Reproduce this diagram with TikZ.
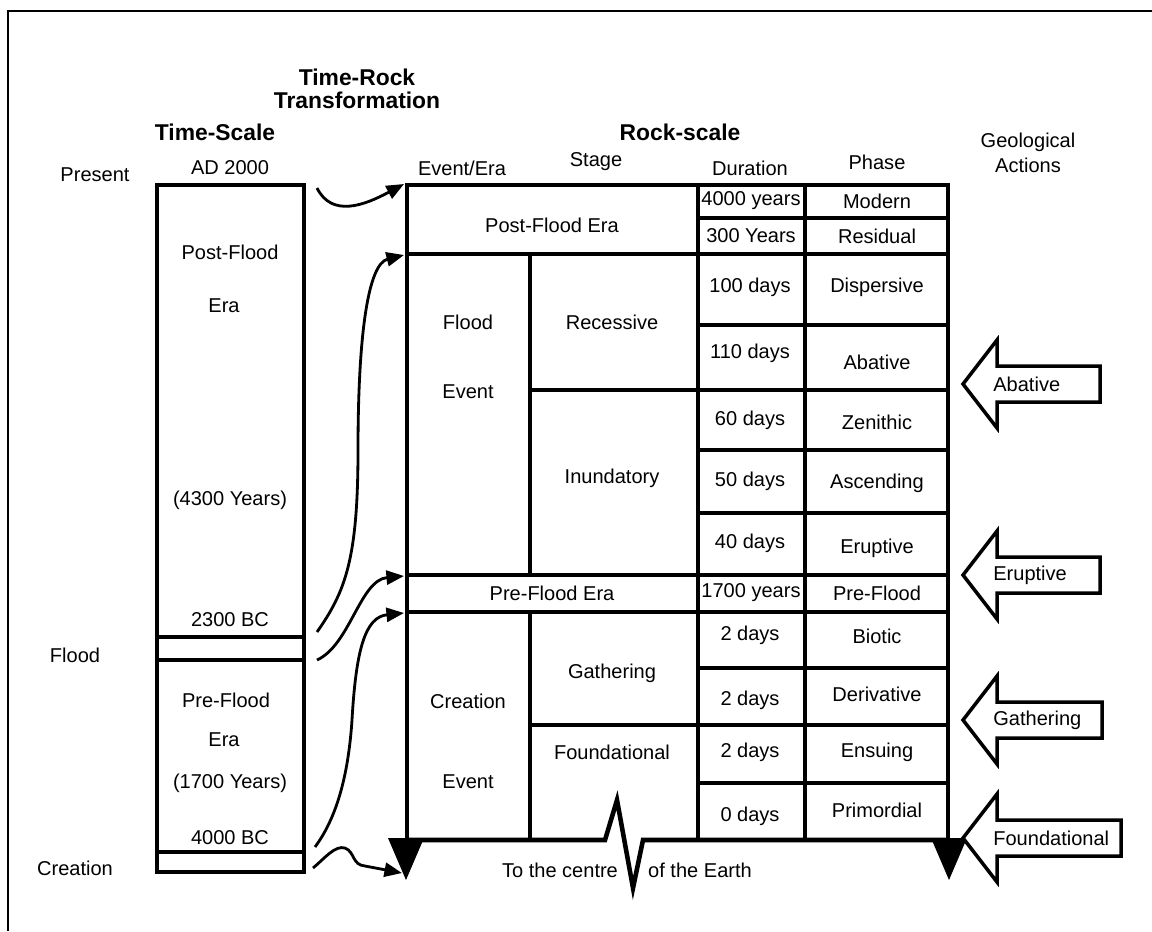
\documentclass[tikz,border=0pt]{standalone}
\usepackage{fontspec}
\setmainfont{Liberation Sans}
\usetikzlibrary{arrows.meta}

\begin{document}
\begin{tikzpicture}[
    x=0.02cm, y=-0.02cm,
    line join=miter,
    rule/.style={line width=2.6pt},
    inner rule/.style={line width=2.3pt},
    txt/.style={font=\fontsize{11.4}{14}\selectfont, inner sep=0pt, align=center},
    hdr/.style={font=\fontsize{13}{13}\selectfont\bfseries, inner sep=0pt, align=center},
    link/.style={line width=1.6pt, -{Triangle[length=10pt, width=8pt]}},
    block/.style={line width=2pt, fill=white}
]

    % Page and frame
    \useasboundingbox (0,0) rectangle (1152,931);
    \draw[line width=1.4pt] (8,931) -- (8,11) -- (1152,11);

    % Headings
    \node[hdr] (trHead) at (357,89) {Time-Rock\\Transformation};
    \node[hdr] (tsHead) at (215,132) {Time-Scale};
    \node[hdr] (rsHead) at (680,132) {Rock-scale};
    \node[txt] (gaHead) at (1028,153) {Geological\\Actions};
    \foreach \hx/\hy/\hlbl/\nm in {462/168/Event\slash Era/colEra, 596/162/Stage/colStage, 750/168/Duration/colDur, 877/162/Phase/colPhase} {
        \node[txt] (\nm) at (\hx,\hy) {\hlbl};
    }

    % Time-scale column
    \draw[rule] (157,185) rectangle (304,872);
    \foreach \ry in {637, 660, 852} {
        \draw[rule] (157,\ry) -- (304,\ry);
    }
    \foreach \tx/\ty/\tlbl/\nm in {230/168/AD 2000/ad, 230/252/Post-Flood/postA, 224/306/Era/postB, 230/500/(4300 Years)/postC,
        230/620/2300 BC/bcA, 226/700/Pre-Flood/preA, 224/740/Era/preB, 230/783/(1700 Years)/preC, 230/838/4000 BC/bcB} {
        \node[txt] (\nm) at (\tx,\ty) {\tlbl};
    }
    \node[txt] (present) at (95,175) {Present};
    \node[txt] (flood) at (75,655) {Flood};
    \node[txt] (creation) at (75,868) {Creation};

    % Rock-scale table
    \draw[rule] (407,840) -- (407,185) -- (948,185) -- (948,840);
    \draw[rule] (407,840) -- (605,840) -- (617,800) -- (633,888) -- (643,840) -- (948,840);
    \foreach \ry in {254, 575, 612} {
        \draw[rule] (407,\ry) -- (948,\ry);
    }
    \draw[rule] (530,254) -- (530,575);
    \draw[rule] (530,612) -- (530,840);
    \draw[rule] (698,185) -- (698,840);
    \draw[rule] (805,185) -- (805,840);
    \foreach \ry in {390, 725} {
        \draw[rule] (530,\ry) -- (948,\ry);
    }
    \foreach \ry in {218, 325, 450, 513, 668, 783} {
        \draw[inner rule] (698,\ry) -- (948,\ry);
    }
    % Downward pointers
    \fill (388,838) -- (424,838) -- (406,880) -- cycle;
    \fill (931,838) -- (967,838) -- (949,880) -- cycle;
    \node[txt] (centreA) at (560,870) {To the centre};
    \node[txt] (centreB) at (700,870) {of the Earth};

    % Table entries
    \foreach \cx/\cy/\ct [count=\i] in {
        552/225/Post-Flood Era, 751/201/4000 years, 877/201/Modern, 751/236/300 Years, 877/236/Residual,
        468/322/Flood, 468/392/Event, 612/322/Recessive, 612/478/Inundatory,
        750/287/100 days, 877/287/Dispersive, 750/353/110 days, 877/362/Abative,
        750/420/60 days, 877/422/Zenithic, 750/481/50 days, 877/483/Ascending,
        750/543/40 days, 877/548/Eruptive,
        552/593/Pre-Flood Era, 751/593/1700 years, 877/593/Pre-Flood,
        468/701/Creation, 468/782/Event, 612/673/Gathering, 612/752/Foundational,
        750/635/2 days, 877/636/Biotic, 750/700/2 days, 877/694/Derivative,
        750/752/2 days, 877/752/Ensuing, 750/816/0 days, 877/810/Primordial} {
        \node[txt] (cell\i) at (\cx,\cy) {\ct};
    }

    % Time to rock links
    \coordinate (T1) at (317,188);  \coordinate (R1) at (404,184);
    \coordinate (T2) at (317,632);  \coordinate (R2) at (404,255);
    \coordinate (T3) at (317,660);  \coordinate (R3) at (404,576);
    \coordinate (T4) at (315,847);  \coordinate (R4) at (404,613);
    \coordinate (T5) at (313,868);  \coordinate (R5) at (402,873);
    \draw[link] (T1) .. controls (332,218) and (365,205) .. (R1);
    \draw[link] (T2) .. controls (345,592) and (358,560) .. (358,450) .. controls (358,335) and (368,264) .. (R2);
    \draw[link] (T3) .. controls (350,645) and (360,580) .. (R3);
    \draw[link] (T4) .. controls (335,820) and (348,780) .. (352,720) .. controls (356,650) and (365,617) .. (R4);
    \draw[link] (T5) .. controls (325,858) and (335,845) .. (345,848) .. controls (355,852) and (352,865) .. (365,866) -- (R5);

    % Geological action arrows
    \foreach \ay/\ax/\lbl in {384/1100/Abative, 575/1100/Eruptive, 720/1102/Gathering, 838/1121/Foundational} {
        \draw[block] (963,\ay) -- (997,\ay-44) -- (997,\ay-18) -- (\ax,\ay-18) -- (\ax,\ay+18) -- (997,\ay+18) -- (997,\ay+44) -- cycle;
        \node[txt, anchor=west] (act\lbl) at (993,\ay) {\lbl};
    }

\end{tikzpicture}
\end{document}
